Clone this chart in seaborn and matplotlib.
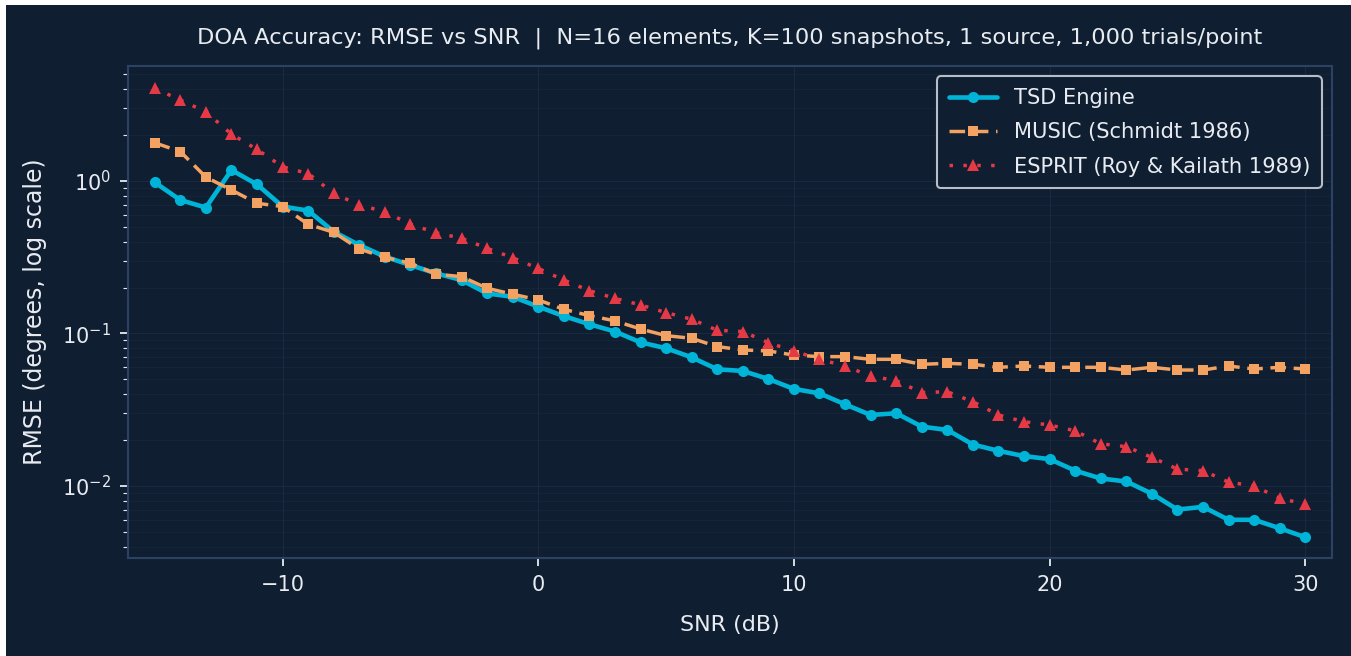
import numpy as np
import pandas as pd
import matplotlib
matplotlib.use("Agg")
import matplotlib.pyplot as plt
import seaborn as sns
from matplotlib.patches import Rectangle

# SNR grid (dB)
snr_db = list(range(-15, 31))

# RMSE in degrees
tsd_rmse = [0.98, 0.75, 0.67, 1.18, 0.95, 0.68, 0.64, 0.465, 0.38, 0.319,
            0.281, 0.248, 0.224, 0.183, 0.174, 0.150, 0.130, 0.115, 0.103, 0.0875,
            0.080, 0.0698, 0.0582, 0.0568, 0.0503, 0.0433, 0.0405, 0.0343, 0.0292, 0.0300,
            0.0245, 0.0233, 0.0187, 0.0170, 0.0157, 0.0150, 0.0126, 0.0112, 0.0107, 0.0089,
            0.0070, 0.0073, 0.0060, 0.0060, 0.00528, 0.00461]
music_rmse = [1.78, 1.56, 1.06, 0.873, 0.714, 0.68, 0.52, 0.461, 0.358, 0.316,
              0.289, 0.245, 0.236, 0.198, 0.181, 0.166, 0.144, 0.131, 0.121, 0.107,
              0.0968, 0.093, 0.082, 0.078, 0.0768, 0.0722, 0.0705, 0.0705, 0.0677, 0.0677,
              0.0628, 0.0637, 0.0628, 0.0600, 0.0612, 0.0600, 0.0600, 0.0600, 0.0576, 0.0600,
              0.0576, 0.0576, 0.0612, 0.0585, 0.0600, 0.0585]
esprit_rmse = [4.05, 3.40, 2.84, 2.03, 1.61, 1.24, 1.12, 0.83, 0.696, 0.629,
               0.52, 0.458, 0.421, 0.362, 0.314, 0.267, 0.224, 0.191, 0.170, 0.154,
               0.137, 0.124, 0.105, 0.103, 0.087, 0.0768, 0.0677, 0.0612, 0.0526, 0.049,
               0.041, 0.0415, 0.0357, 0.0292, 0.0264, 0.0251, 0.0230, 0.0189, 0.0181, 0.0154,
               0.0129, 0.0126, 0.0106, 0.0100, 0.0083, 0.0076]

BG = "#0f1e31"
SPINE = "#2c4263"
TEXT = "#e8ecf1"

sns.set_theme(style="dark")
plt.rcParams['font.family'] = 'DejaVu Sans'

fig = plt.figure(figsize=(13.51, 6.56), dpi=100, facecolor="white")
# dark canvas with the thin white edge seen on the left/top of the reference
fig.patches.append(Rectangle((6 / 1351, 0), 1, 1 - 5 / 656, transform=fig.transFigure,
                             facecolor=BG, edgecolor="none", zorder=-10))
ax = fig.add_axes([0.0947, 0.1494, 0.8913, 0.75])
ax.set_facecolor(BG)

sns.lineplot(x=snr_db, y=tsd_rmse, ax=ax, color="#00b4d8", lw=3.3, marker="o",
             markersize=8, markeredgewidth=0, label="TSD Engine")
sns.lineplot(x=snr_db, y=music_rmse, ax=ax, color="#f4a261", lw=2.5, linestyle=(0, (4.5, 2.2)),
             marker="s", markersize=7.5, markeredgewidth=0, label="MUSIC (Schmidt 1986)")
sns.lineplot(x=snr_db, y=esprit_rmse, ax=ax, color="#e63946", lw=2.5, linestyle=(0, (1, 3)),
             marker="^", markersize=8.5, markeredgewidth=0, label="ESPRIT (Roy & Kailath 1989)")

ax.set_yscale("log")
ax.margins(x=0.0233)
ax.set_ylim(0.00337, 5.68)

ax.grid(True, which="major", color="#22344d", lw=0.8, alpha=0.55)
ax.grid(True, which="minor", axis="y", color="#1d2f47", lw=0.6, alpha=0.5)

for s in ax.spines.values():
    s.set_color(SPINE)
    s.set_linewidth(1.5)

ax.tick_params(axis="both", which="major", colors=TEXT, labelsize=15, length=6, width=1.3,
               pad=6, bottom=True, left=True)
ax.tick_params(axis="y", which="minor", colors=TEXT, length=3.5, width=0.8, left=True)

ax.set_xlabel("SNR (dB)", color=TEXT, fontsize=16, labelpad=15)
ax.set_ylabel("RMSE (degrees, log scale)", color=TEXT, fontsize=17, labelpad=11)
ax.set_title("DOA Accuracy: RMSE vs SNR  |  N=16 elements, K=100 snapshots, 1 source, 1,000 trials/point",
             color=TEXT, fontsize=16.2, pad=16)

leg = ax.legend(loc="upper right", fontsize=15.1, facecolor=BG, edgecolor="#b8bec7",
                framealpha=1.0, borderpad=0.55, labelspacing=0.68, handlelength=2.3)
leg.get_frame().set_linewidth(1.5)
for t in leg.get_texts():
    t.set_color(TEXT)

fig.savefig("out.png", dpi=100, facecolor=fig.get_facecolor())
